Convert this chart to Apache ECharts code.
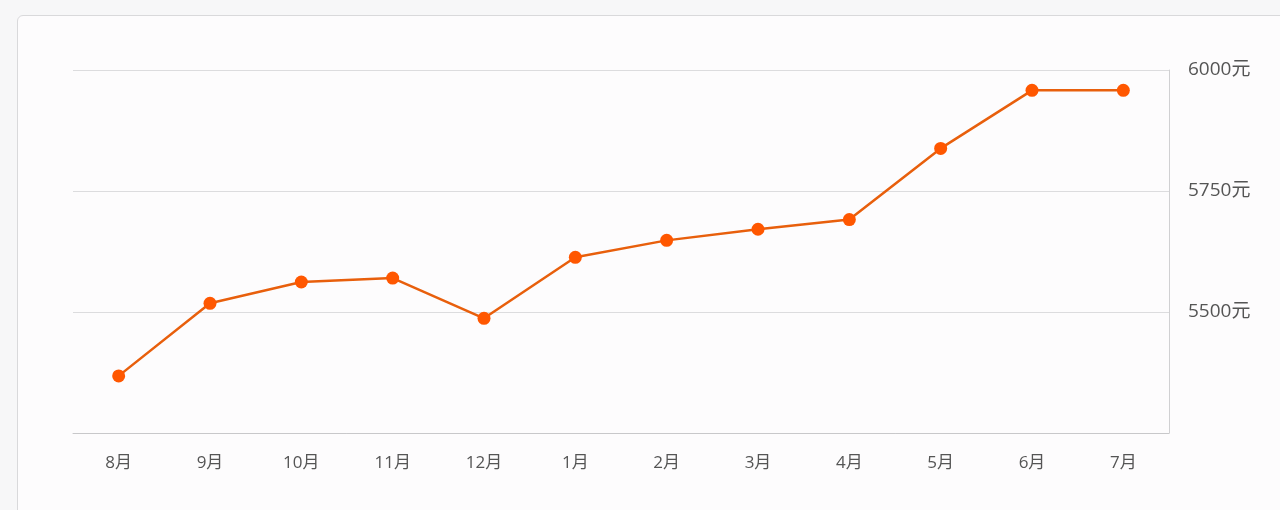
<!DOCTYPE html>
<html>
<head>
<meta charset="utf-8">
<script src="https://cdn.jsdelivr.net/npm/echarts@6/dist/echarts.min.js"></script>
<style>
  html, body { margin: 0; padding: 0; width: 1280px; height: 510px; overflow: hidden; background: #f7f7f8; }
  #panel { position: absolute; left: 17px; top: 15px; width: 1300px; height: 520px; border: 1px solid #d9d9db; border-radius: 6px; background: #fdfcfd; }
  #chart { position: absolute; left: 0; top: 0; width: 1280px; height: 510px; }
</style>
</head>
<body>
<div id="panel"></div>
<div id="chart"></div>
<script>
var categories = ['8月', '9月', '10月', '11月', '12月', '1月', '2月', '3月', '4月', '5月', '6月', '7月'];
var prices = [5368, 5518, 5562, 5570, 5487, 5613, 5648, 5671, 5691, 5838, 5958, 5958];
var yMin = 5250, yMax = 6000, yStep = 250;
var unit = '元';

var font = '"Open Sans", "Noto Sans CJK SC", sans-serif';
var chart = echarts.init(document.getElementById('chart'), null, { renderer: 'canvas' });
chart.setOption({
  backgroundColor: 'transparent',
  animation: false,
  grid: { left: 73, right: 111, top: 70, bottom: 77 },
  xAxis: {
    type: 'category',
    data: categories,
    boundaryGap: true,
    axisLine: { lineStyle: { color: '#c8c8ca', width: 1 } },
    axisTick: { alignWithLabel: true, length: 5, lineStyle: { color: '#d0d0d2' } },
    axisLabel: { color: '#555', fontSize: 17, margin: 22, fontFamily: font }
  },
  yAxis: {
    type: 'value',
    position: 'right',
    min: yMin, max: yMax, interval: yStep,
    axisLine: { show: true, lineStyle: { color: '#d0d0d2', width: 1 } },
    axisTick: { show: false },
    splitLine: { lineStyle: { color: '#dcdcde', width: 1 } },
    axisLabel: { color: '#555', fontSize: 19, margin: 19, showMinLabel: false,
      formatter: function (v) { return String(v) + unit; }, fontFamily: font }
  },
  series: [{
    type: 'line',
    data: prices,
    symbol: 'circle',
    symbolSize: 13,
    lineStyle: { color: '#e85f0c', width: 2.5 },
    itemStyle: { color: '#ff5700' }
  }]
});
</script>
</body>
</html>
